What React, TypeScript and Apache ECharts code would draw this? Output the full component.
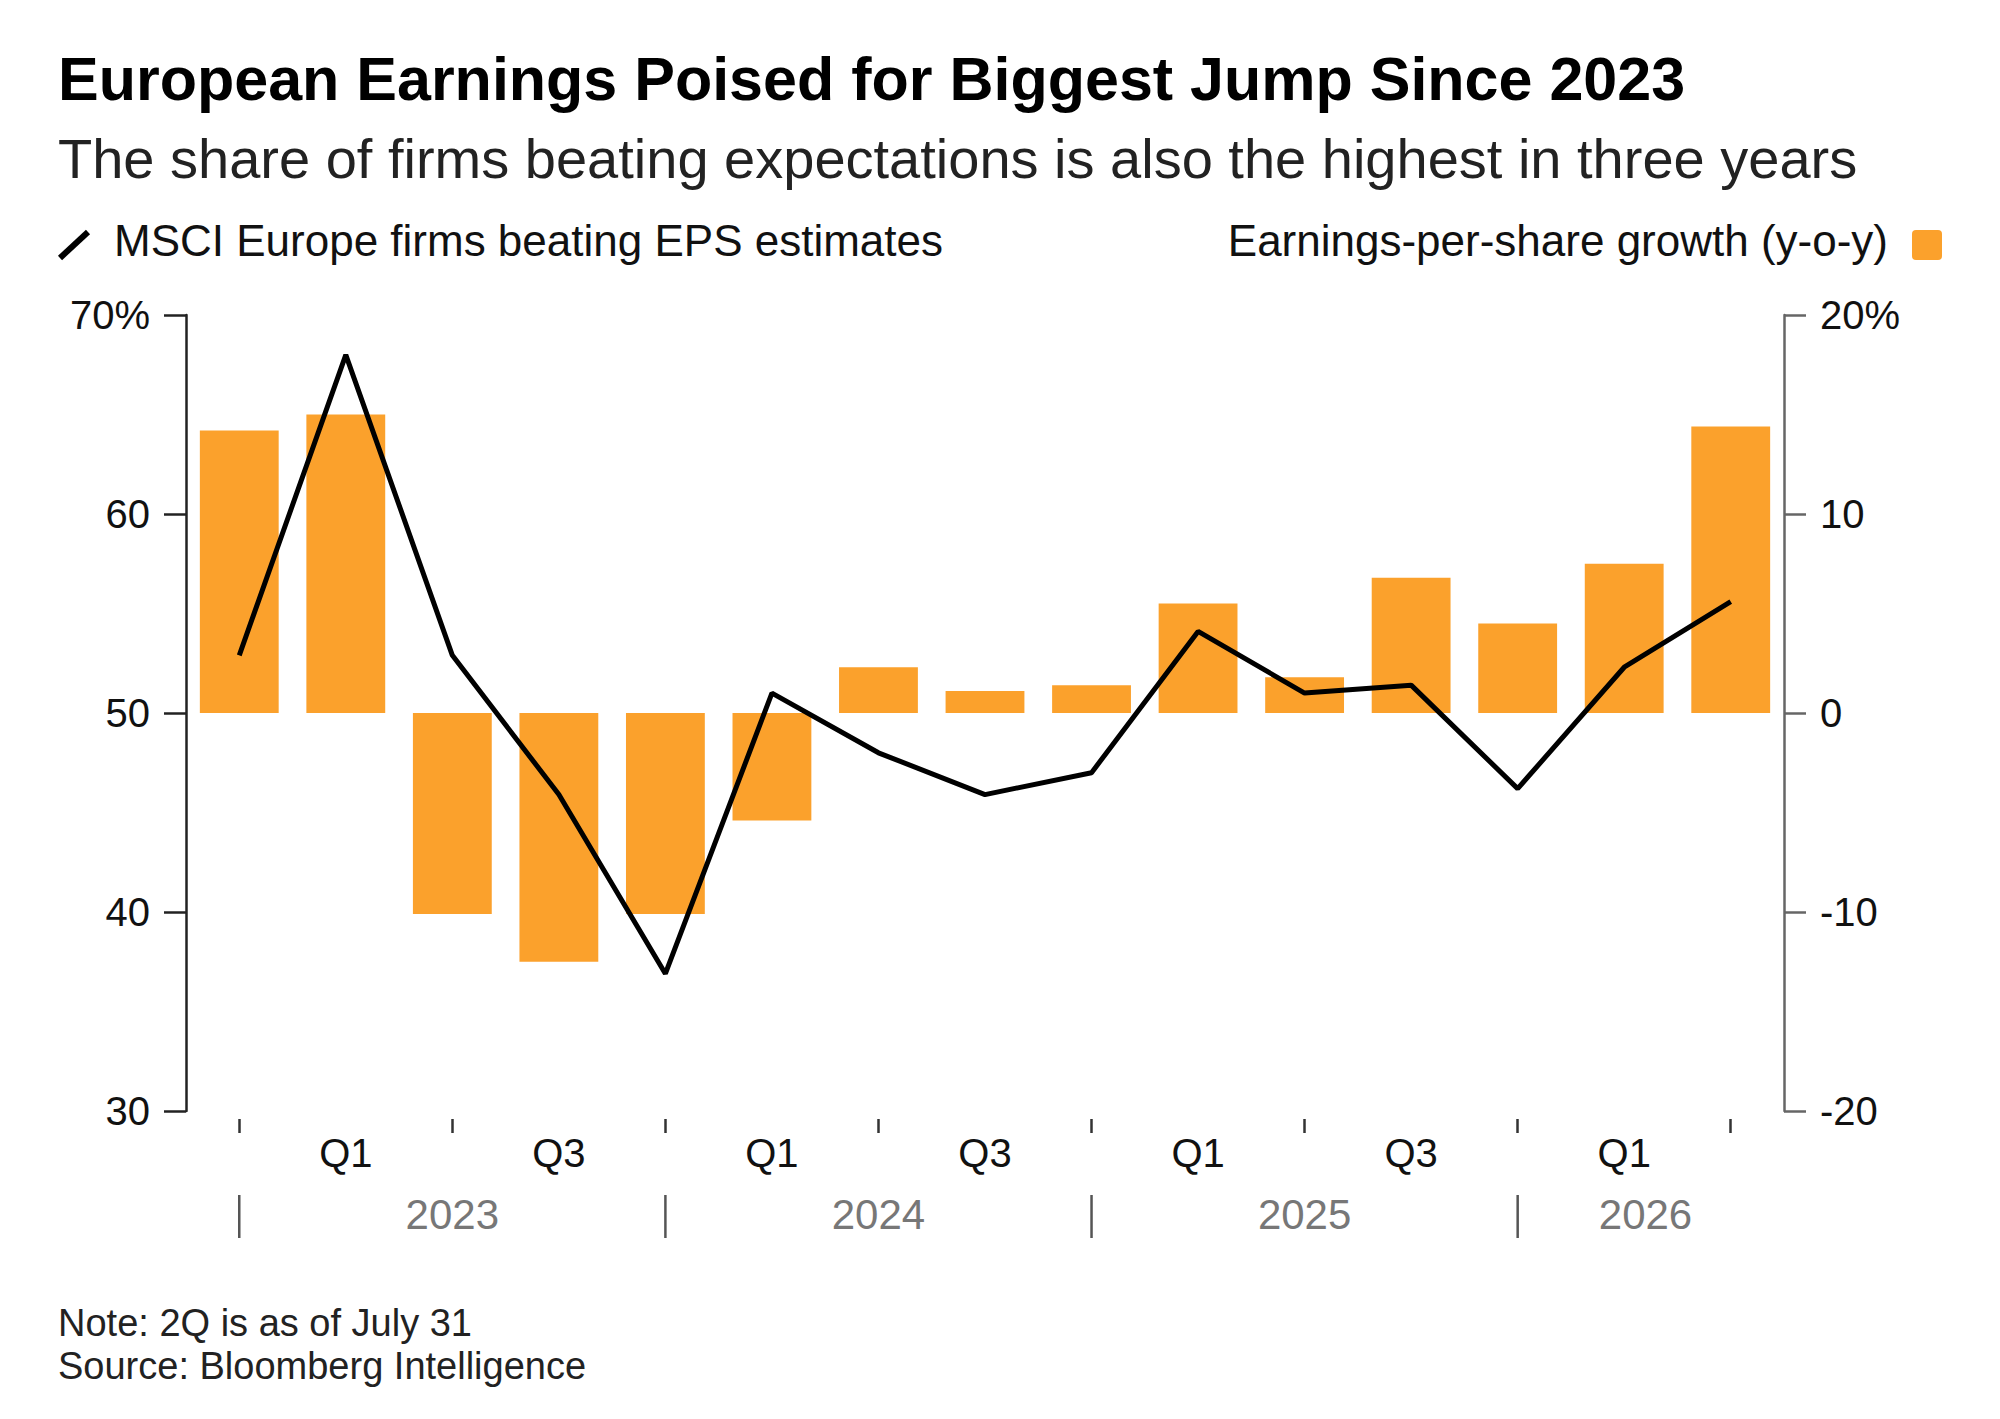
import * as echarts from 'echarts';
import { useEffect, useRef } from 'react';

const categories = ['Q4 22', 'Q1 23', 'Q2 23', 'Q3 23', 'Q4 23', 'Q1 24', 'Q2 24', 'Q3 24', 'Q4 24', 'Q1 25', 'Q2 25', 'Q3 25', 'Q4 25', 'Q1 26', 'Q2 26'];
const quarterLabels = ['', 'Q1', '', 'Q3', '', 'Q1', '', 'Q3', '', 'Q1', '', 'Q3', '', 'Q1', ''];
const epsGrowth = [14.2, 15.0, -10.1, -12.5, -10.1, -5.4, 2.3, 1.1, 1.4, 5.5, 1.8, 6.8, 4.5, 7.5, 14.4];
const beatingShare = [52.9, 68, 52.9, 45.9, 36.9, 51, 48, 45.9, 47, 54.1, 51, 51.4, 46.2, 52.3, 55.6];
const years = [['2023', 2], ['2024', 6], ['2025', 10], ['2026', 13.2]] as const;
const yearStarts = [0, 4, 8, 12];

const FONT = '"Liberation Sans", Arial, sans-serif';
const ORANGE = '#fba12c';

const App = () => {
    const divRef = useRef<HTMLDivElement>(null);

    useEffect(() => {
        document.body.style.margin = '0';
        const chart = echarts.init(divRef.current!, null, { renderer: 'svg' });
        chart.setOption({
            animation: false,
            backgroundColor: '#fff',
            textStyle: { fontFamily: FONT },
            grid: { left: 186, right: 216, top: 315, bottom: 308 },
            xAxis: {
                type: 'category',
                data: categories,
                offset: 8,
                axisLine: { show: true, onZero: false, lineStyle: { opacity: 0 } },
                axisTick: {
                    show: true,
                    alignWithLabel: true,
                    interval: (i: number) => i % 2 === 0,
                    length: 14,
                    lineStyle: { color: '#333', width: 2.5, opacity: 1 }
                },
                axisLabel: {
                    interval: 0,
                    formatter: (_v: string, i: number) => quarterLabels[i],
                    fontSize: 40, color: '#111', margin: 14, fontFamily: FONT
                }
            },
            yAxis: [
                {
                    type: 'value', min: 30, max: 70, interval: 10,
                    axisLine: { show: true, lineStyle: { color: '#222', width: 2.5 } },
                    axisTick: { show: true, length: 22, lineStyle: { color: '#222', width: 2.5 } },
                    splitLine: { show: false },
                    axisLabel: {
                        formatter: (v: number) => (v === 70 ? '70%' : String(v)),
                        fontSize: 40, color: '#111', margin: 36, fontFamily: FONT
                    }
                },
                {
                    type: 'value', min: -20, max: 20, interval: 10,
                    axisLine: { show: true, lineStyle: { color: '#666', width: 2.5 } },
                    axisTick: { show: true, length: 22, lineStyle: { color: '#666', width: 2.5 } },
                    splitLine: { show: false },
                    axisLabel: {
                        formatter: (v: number) => (v === 20 ? '20%' : String(v)),
                        fontSize: 40, color: '#111', margin: 36, fontFamily: FONT
                    }
                }
            ],
            series: [
                {
                    type: 'bar', yAxisIndex: 1, data: epsGrowth,
                    barWidth: '74%', itemStyle: { color: ORANGE }
                },
                {
                    type: 'line', yAxisIndex: 0, data: beatingShare,
                    symbol: 'none', lineStyle: { color: '#000', width: 5 }, z: 5
                }
            ]
        });

        const graphics: any[] = [
            { type: 'text', left: 58, top: 48, style: { text: 'European Earnings Poised for Biggest Jump Since 2023', font: `bold 61px ${FONT}`, fill: '#000' } },
            { type: 'text', left: 58, top: 130, style: { text: 'The share of firms beating expectations is also the highest in three years', font: `56px ${FONT}`, fill: '#222' } },
            { type: 'line', shape: { x1: 60, y1: 258, x2: 88, y2: 232 }, style: { stroke: '#000', lineWidth: 6 } },
            { type: 'text', left: 114, top: 218, style: { text: 'MSCI Europe firms beating EPS estimates', font: `44px ${FONT}`, fill: '#111' } },
            { type: 'text', right: 112, top: 218, style: { text: 'Earnings-per-share growth (y-o-y)', font: `44px ${FONT}`, fill: '#111' } },
            { type: 'rect', shape: { x: 1912, y: 230, width: 30, height: 30, r: 4 }, style: { fill: ORANGE } },
            { type: 'text', left: 58, top: 1304, style: { text: 'Note: 2Q is as of July 31', font: `38px ${FONT}`, fill: '#222' } },
            { type: 'text', left: 58, top: 1347, style: { text: 'Source: Bloomberg Intelligence', font: `38px ${FONT}`, fill: '#222' } }
        ];
        yearStarts.forEach((i) => {
            const x = chart.convertToPixel({ xAxisIndex: 0 }, i) as number;
            graphics.push({ type: 'line', shape: { x1: x, y1: 1195, x2: x, y2: 1238 }, style: { stroke: '#555', lineWidth: 2.5 } });
        });
        years.forEach(([label, pos]) => {
            const x0 = chart.convertToPixel({ xAxisIndex: 0 }, Math.floor(pos)) as number;
            const x1 = chart.convertToPixel({ xAxisIndex: 0 }, Math.floor(pos) + 1) as number;
            const x = x0 + (x1 - x0) * (pos - Math.floor(pos));
            graphics.push({ type: 'text', x, y: 1214, style: { text: label, font: `42px ${FONT}`, fill: '#777', align: 'center', verticalAlign: 'middle' } });
        });
        chart.setOption({ graphic: graphics });

        return () => { chart.dispose(); };
    }, []);

    return <div ref={divRef} style={{ width: '2000px', height: '1419px' }} />;
};

export default App;
